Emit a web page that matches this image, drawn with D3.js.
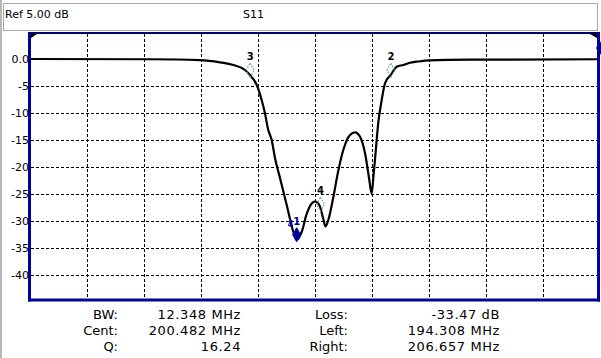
<!DOCTYPE html>
<html>
<head>
<meta charset="utf-8">
<script src="https://cdn.jsdelivr.net/npm/d3@7"></script>
<style>
  body { margin: 0; background: #fff; }
  text { font-family: "DejaVu Sans", sans-serif; }
</style>
</head>
<body>
<div id="chart"></div>
<script>

// sweep (MHz, dB)
var freqMHz = [175.00, 185.53, 189.91, 191.67, 192.83, 193.86, 194.31, 194.89, 195.32, 195.61,
               195.90, 196.20, 196.49, 196.93, 197.52, 198.10, 198.39, 198.83, 199.27, 199.71,
               200.00, 200.38, 200.73, 200.92, 201.17, 201.61, 202.02, 202.48, 203.07, 203.51,
               203.95, 204.39, 204.74, 204.97, 205.13, 205.26, 205.41, 205.55, 205.85, 206.14,
               206.66, 207.17, 207.75, 208.33, 208.92, 210.09, 213.60, 225.00];
var sweepDb = [0.00, -0.05, -0.19, -0.61, -1.11, -2.04, -3.00, -4.81, -7.59, -10.06,
               -13.15, -15.00, -18.33, -22.04, -27.04, -32.04, -33.47, -32.04, -28.70, -26.76,
               -26.39, -27.04, -29.63, -31.02, -29.81, -25.56, -20.93, -16.85, -14.07, -13.57,
               -14.39, -17.46, -22.04, -24.91, -21.67, -18.70, -15.00, -11.85, -7.59, -4.50,
               -2.90, -1.43, -1.11, -0.69, -0.50, -0.24, -0.13, -0.05];

var yTicks = [0, -5, -10, -15, -20, -25, -30, -35, -40];
var yTickLabels = ["0.0", "-5", "-10", "-15", "-20", "-25", "-30", "-35", "-40"];
var xGrid = [180, 185, 190, 195, 200, 205, 210, 215, 220];

var markerIds = ["1", "2", "3", "4"];
var markerFreq = [198.39, 206.657, 194.308, 200.482];
var markerDb = [-33.47, -3.0, -3.0, -27.8];

var readLabelsL = ["BW:", "Cent:", "Q:"];
var readValuesL = ["12.348 MHz", "200.482 MHz", "16.24"];
var readLabelsR = ["Loss:", "Left:", "Right:"];
var readValuesR = ["-33.47 dB", "194.308 MHz", "206.657 MHz"];

var width = 601, height = 358;
var navy = "#00009c";

var svg = d3.select("#chart")
  .append("svg")
    .attr("width", width)
    .attr("height", height);

// window frame + header box
svg.append("line")
  .attr("x1", 1).attr("x2", 1).attr("y1", 0).attr("y2", height)
  .attr("stroke", "#a0a0a0").attr("stroke-width", 1.5);
svg.append("rect")
  .attr("x", 3.5).attr("y", 3.5).attr("width", 594).attr("height", 27)
  .attr("fill", "#fff").attr("stroke", "#a8a8a8");
svg.append("text").attr("x", 5).attr("y", 18)
  .attr("font-size", 11).text("Ref 5.00 dB");
svg.append("text").attr("x", 243).attr("y", 18)
  .attr("font-size", 11).text("S11");

var x = d3.scaleLinear().domain([175, 225]).range([30, 600]);
var y = d3.scaleLinear().domain([5, -45]).range([32, 302]);

// grid
svg.append("g").selectAll("line")
  .data(xGrid).enter().append("line")
    .attr("x1", function(d) { return Math.round(x(d)) + 0.5; })
    .attr("x2", function(d) { return Math.round(x(d)) + 0.5; })
    .attr("y1", 34).attr("y2", 299)
    .attr("stroke", "#000").attr("stroke-dasharray", "3,2");
svg.append("g").selectAll("line")
  .data(yTicks.slice(1)).enter().append("line")
    .attr("x1", 31).attr("x2", 597)
    .attr("y1", function(d) { return Math.round(y(d)) + 0.5; })
    .attr("y2", function(d) { return Math.round(y(d)) + 0.5; })
    .attr("stroke", "#000").attr("stroke-dasharray", "3,2");

// y labels
var yAxis = svg.append("g")
  .attr("transform", "translate(29,0)")
  .call(d3.axisLeft(y).tickValues(yTicks).tickSize(0).tickPadding(0)
    .tickFormat(function(d, i) { return yTickLabels[i]; }));
yAxis.select(".domain").remove();
yAxis.selectAll("text").attr("font-size", 11).attr("fill", "#000")
  .style("font-family", "DejaVu Sans, sans-serif");

// trace
var line = d3.line()
  .x(function(d) { return x(d[0]); })
  .y(function(d) { return y(d[1]); })
  .curve(d3.curveMonotoneX);
svg.append("path")
  .datum(d3.zip(freqMHz, sweepDb))
  .attr("fill", "none")
  .attr("stroke", "#000")
  .attr("stroke-width", 2.2)
  .attr("d", line);

// markers
function diamond(cx, cy) {
  return "M" + cx + "," + (cy - 7) + "L" + (cx + 4) + "," + cy +
         "L" + cx + "," + (cy + 7) + "L" + (cx - 4) + "," + cy + "Z";
}
markerIds.forEach(function(id, i) {
  var cx = x(markerFreq[i]), cy = y(markerDb[i]) - 5;
  var active = i === 0;
  svg.append("path")
    .attr("d", diamond(cx, cy))
    .attr("fill", active ? navy : "none")
    .attr("stroke", active ? navy : "#5f9ea0")
    .attr("stroke-width", active ? 1 : 1.2)
    .attr("stroke-dasharray", active ? null : "1.5,1.5");
  svg.append("text")
    .attr("x", cx).attr("y", cy - 10)
    .attr("text-anchor", "middle")
    .attr("font-size", 10).attr("font-weight", "bold")
    .attr("fill", active ? navy : "#000")
    .text(id);
  if (active) {
    svg.append("text")
      .attr("x", cx - 6).attr("y", cy - 8)
      .attr("text-anchor", "middle")
      .attr("font-size", 8).attr("font-weight", "bold")
      .attr("fill", navy).text("4");
  }
});

// border
svg.append("line").attr("x1", 29.5).attr("x2", 29.5).attr("y1", 32).attr("y2", 301.5)
  .attr("stroke", navy).attr("stroke-width", 3);
svg.append("line").attr("x1", 598.5).attr("x2", 598.5).attr("y1", 32).attr("y2", 301.5)
  .attr("stroke", navy).attr("stroke-width", 3);
svg.append("line").attr("x1", 28).attr("x2", 600).attr("y1", 300).attr("y2", 300)
  .attr("stroke", navy).attr("stroke-width", 3);
svg.append("line").attr("x1", 28).attr("x2", 600).attr("y1", 33).attr("y2", 33)
  .attr("stroke", "#00006a").attr("stroke-width", 2);

// corner wedges + offscreen marker
svg.append("path").attr("d", "M31,34L37,34L31,38Z").attr("fill", "#000");
svg.append("path").attr("d", "M590,34L597,34L597,38Z").attr("fill", "#000");
svg.append("path").attr("d", diamond(600, 48)).attr("fill", navy);

// readout
function readout(labels, values, lx, vx) {
  labels.forEach(function(t, i) {
    svg.append("text").attr("x", lx).attr("y", 319 + i * 16)
      .attr("text-anchor", "end").attr("font-size", 13).text(t);
    svg.append("text").attr("x", vx).attr("y", 319 + i * 16)
      .attr("text-anchor", "end").attr("font-size", 13)
      .attr("letter-spacing", 0.6).text(values[i]);
  });
}
readout(readLabelsL, readValuesL, 118, 241);
readout(readLabelsR, readValuesR, 348, 500);

</script>
</body>
</html>
